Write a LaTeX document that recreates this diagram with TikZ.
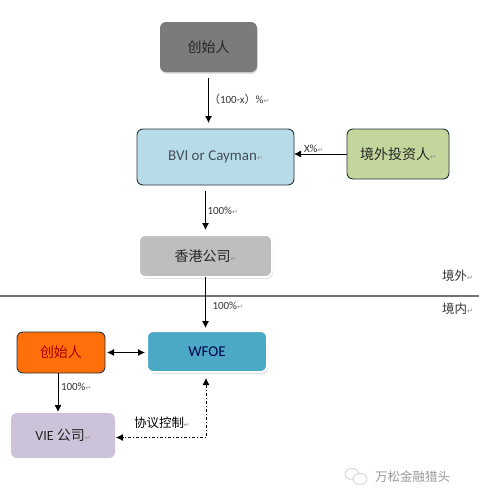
\documentclass[tikz,border=0pt]{standalone}
\usepackage{fontspec}
\setmainfont{Carlito}
\newfontfamily\cjk{Noto Sans CJK SC}
\newfontfamily\symfont{DejaVu Sans}
\usepackage{xcolor}
\usetikzlibrary{arrows.meta,positioning,shadows}
\definecolor{founderfill}{HTML}{7C7B7C}
\definecolor{bvifill}{HTML}{B7DCE7}
\definecolor{investorfill}{HTML}{C3D69B}
\definecolor{hkfill}{HTML}{BFBDBE}
\definecolor{wfoefill}{HTML}{4BA9C6}
\definecolor{orangefill}{HTML}{FF6F0A}
\definecolor{viefill}{HTML}{CCC3DA}
\definecolor{inkline}{HTML}{27333A}
\newcommand{\retmark}{{\symfont\fontsize{7}{7}\selectfont\textcolor{black!45}{↵}}}

\begin{document}
\begin{tikzpicture}[
  orgbox/.style={rounded corners=6pt, align=center, inner sep=0pt, outer sep=0pt, font=\fontsize{14}{16}\selectfont, text=black!85},
  softbox/.style={orgbox, drop shadow={shadow xshift=0.5pt, shadow yshift=-1.5pt, fill=black!35}},
  glowbox/.style={orgbox, draw=white, line width=2pt, drop shadow={shadow xshift=1pt, shadow yshift=-1.5pt, fill=black!40}},
  linebox/.style={orgbox, draw=inkline, line width=0.9pt},
  lbl/.style={inner sep=0pt, outer sep=0pt, font=\fontsize{11}{13}\selectfont, text=black!80},
  orgarr/.style={-{Latex[length=7pt,width=7pt]}, line width=0.9pt, black}
]
\useasboundingbox (0,0) rectangle (479pt,-499pt);
\node[softbox, fill=founderfill, minimum width=97pt, minimum height=50pt] (founder) at (208.5pt,-47pt) {\cjk 创始人};
\node[linebox, fill=bvifill, minimum width=157pt, minimum height=56pt, below=57pt of founder, xshift=7pt] (bvi) {\textcolor{black!75!cyan}{\fontsize{15}{16}\selectfont BVI or Cayman}\retmark};
\node[linebox, fill=investorfill, minimum width=102pt, minimum height=50pt, right=53pt of bvi, yshift=3pt] (investor) {{\cjk 境外投资人}\retmark};
\node[glowbox, fill=hkfill, minimum width=133pt, minimum height=42pt, below=50pt of bvi, xshift=-10pt] (hk) {\raisebox{-5pt}{\cjk 香港公司}\raisebox{-5pt}{\retmark}};
\node[glowbox, fill=wfoefill, minimum width=120pt, minimum height=41pt, below=54pt of hk, xshift=1.5pt] (wfoe) {\raisebox{-3pt}{\textcolor{black!70!blue}{\fontsize{15}{16}\selectfont WFOE}}};
\node[linebox, fill=orangefill, minimum width=88pt, minimum height=41pt, left=42pt of wfoe, yshift=-1pt] (founderin) {\raisebox{-5pt}{\textcolor{red!65!black}{\cjk 创始人}}};
\node[orgbox, fill=viefill, minimum width=104pt, minimum height=45pt, below=40pt of founderin, xshift=2pt] (vie) {VIE {\cjk 公司}\retmark};

\node[lbl, below right=22pt and 0.5pt of founder.south] (pctfounder) {{\cjk （}100-x{\cjk ）}\%\retmark};
\node[lbl, above right=4pt and 10pt of bvi.east] (pctinvestor) {X\%\retmark};
\node[lbl, above right=20pt and 2pt of hk.north] (pcthk) {100\%\retmark};
\node[lbl, below right=25pt and 7pt of hk.south] (pctwfoe) {100\%\retmark};
\node[lbl, below right=10pt and 0pt of founderin.south] (pctvie) {100\%\retmark};
\node[lbl, above right=7pt and 19pt of vie.east, font=\fontsize{12.5}{14}\selectfont, text=black] (control) {{\cjk 协议控制}\retmark};
\node[lbl, right=170pt of hk, yshift=-20pt, font=\fontsize{12.5}{14}\selectfont] (offshore) {{\cjk 境外}\retmark};
\node[lbl, below=21pt of offshore, font=\fontsize{12.5}{14}\selectfont] (onshore) {{\cjk 境内}\retmark};

\coordinate (borderl) at (0pt,-296pt);
\coordinate (borderr) at (479pt,-296pt);
\draw[black!55, line width=1.2pt] (borderl) -- (borderr);

\draw[orgarr, shorten <=6pt, shorten >=6pt] (founder.south) -- (founder.south |- bvi.north);
\draw[orgarr] (investor.west) -- (investor.west -| bvi.east);
\draw[orgarr, shorten <=6pt, shorten >=5pt] (hk.north |- bvi.south) -- (hk.north);
\draw[orgarr, shorten >=3pt] (hk.south) -- (hk.south |- wfoe.north);
\draw[{Latex[length=7pt,width=7pt]}-{Latex[length=7pt,width=7pt]}, line width=0.9pt, shorten <=2pt, shorten >=2pt] (founderin.east) -- (founderin.east -| wfoe.west);
\draw[orgarr, shorten >=1pt] ([xshift=-3pt]founderin.south) -- ([xshift=-3pt]founderin.south |- vie.north);
\draw[{Latex[length=7pt,width=7pt]}-{Latex[length=7pt,width=7pt]}, line width=0.8pt, dash pattern=on 3pt off 2pt on 1pt off 2pt, shorten <=6pt, shorten >=1pt] ([xshift=-1pt]wfoe.south) |- ([yshift=-2pt]vie.east);

% mark in the lower corner
\draw[black!15, fill=white, line width=1pt] (352pt,-474pt) ellipse (7pt and 5.5pt);
\draw[black!15, fill=white, line width=1pt] (360pt,-479pt) ellipse (7pt and 5.5pt);
\node[lbl, anchor=west, font=\cjk\fontsize{12.5}{14}\selectfont, text=black!40] (brand) at (375pt,-477pt) {万松金融猎头};
\end{tikzpicture}
\end{document}
